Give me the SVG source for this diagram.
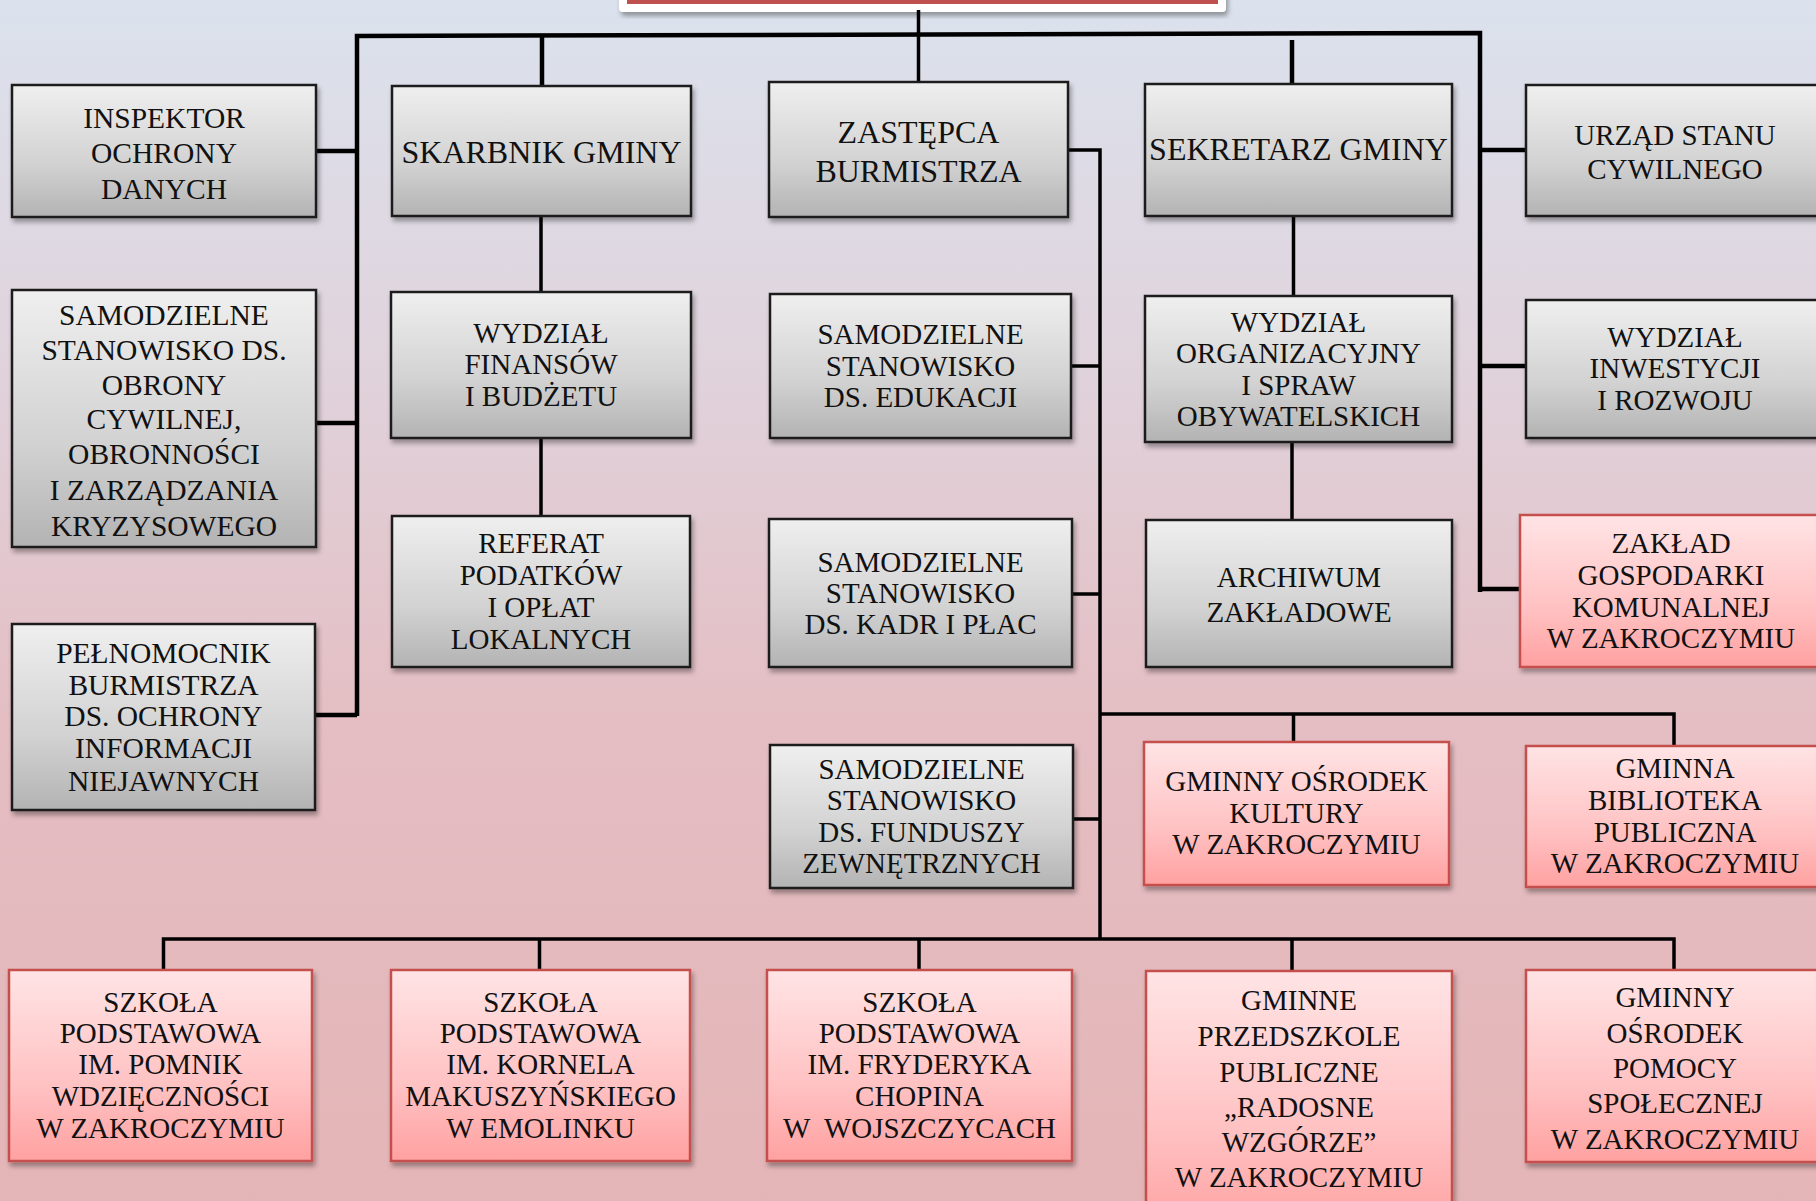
<svg xmlns="http://www.w3.org/2000/svg" width="1816" height="1201" viewBox="0 0 1816 1201">
<defs>
<linearGradient id="bg" x1="0" y1="0" x2="0" y2="1">
<stop offset="0" stop-color="#dbe2ed"/>
<stop offset="0.3" stop-color="#e0d3dc"/>
<stop offset="0.6" stop-color="#e4bec3"/>
<stop offset="1" stop-color="#e4b5b7"/>
</linearGradient>
<linearGradient id="gg" x1="0" y1="0" x2="0" y2="1">
<stop offset="0" stop-color="#efefef"/>
<stop offset="0.6" stop-color="#d2d2d2"/>
<stop offset="1" stop-color="#b3b3b3"/>
</linearGradient>
<linearGradient id="pg" x1="0" y1="0" x2="0" y2="1">
<stop offset="0" stop-color="#ffe4e5"/>
<stop offset="0.6" stop-color="#ffc2c3"/>
<stop offset="1" stop-color="#ffa1a1"/>
</linearGradient>
<filter id="sh" x="-10%" y="-10%" width="130%" height="130%">
<feDropShadow dx="2" dy="4" stdDeviation="2.5" flood-color="#000" flood-opacity="0.35"/>
</filter>
</defs>
<style>
.g{fill:url(#gg);stroke:#1c1c1c;stroke-width:2.5;filter:url(#sh)}
.p{fill:url(#pg);stroke:#c4504e;stroke-width:2.5;filter:url(#sh)}
text{font-family:"Liberation Serif","Times New Roman",serif;font-size:29px;fill:#111;text-anchor:middle}
.b{font-size:32px}
.l{font-size:29.5px}
.ln{fill:none;stroke:#000;stroke-width:3.5;stroke-linejoin:miter}
.tk{stroke-width:4.5}
</style>
<rect x="0" y="0" width="1816" height="1201" fill="url(#bg)"/>

<g id="title">
<rect x="619" y="-20" width="607" height="32" rx="4" fill="#ffffff" filter="url(#sh)"/>
<rect x="627" y="-20" width="591" height="24" fill="#c0504d"/>
</g>

<g id="connectors">
<path class="ln tk" d="M357,716 L357,36 L1480,33 L1480,592"/>
<path class="ln tk" d="M316,151 H357 M316,423 H357 M315,715 H357"/>
<path class="ln tk" d="M542,37 V86"/>
<path class="ln" d="M918.5,10 V82"/>
<path class="ln tk" d="M1292,40 V84"/>
<path class="ln tk" d="M1480,150 H1526 M1480,366 H1526 M1480,589 H1520"/>
<path class="ln" d="M541,216 V292 M541,438 V516"/>
<path class="ln" d="M1293.5,216 V296 M1292,442 V520"/>
<path class="ln" d="M1068,150 H1100 V939"/>
<path class="ln" d="M1071,366 H1100 M1072,594 H1100 M1073,819 H1100"/>
<path class="ln" d="M1100,714 H1674 V746 M1293.5,714 V742"/>
<path class="ln" d="M163.5,970 V939 H1674 V970 M539.5,939 V970 M919,939 V970 M1292,939 V971"/>
</g>

<g id="inspektor">
<rect class="g" x="12" y="85" width="304" height="132"/>
<text class="l"><tspan x="164" y="127.7">INSPEKTOR</tspan><tspan x="164" y="163.3">OCHRONY</tspan><tspan x="164" y="198.7">DANYCH</tspan></text>
</g>
<g id="skarbnik">
<rect class="g" x="392" y="86" width="299" height="130"/>
<text class="b" x="541.5" y="162.5">SKARBNIK GMINY</text>
</g>
<g id="zastepca">
<rect class="g" x="769" y="82" width="299" height="135"/>
<text class="b"><tspan x="918.5" y="143.3">ZASTĘPCA</tspan><tspan x="918.5" y="181.7">BURMISTRZA</tspan></text>
</g>
<g id="sekretarz">
<rect class="g" x="1145" y="84" width="307" height="132"/>
<text class="b" x="1298.5" y="160">SEKRETARZ GMINY</text>
</g>
<g id="usc">
<rect class="g" x="1526" y="85" width="300" height="131"/>
<text><tspan x="1675" y="145">URZĄD STANU</tspan><tspan x="1675" y="179.3">CYWILNEGO</tspan></text>
</g>

<g id="obrona">
<rect class="g" x="12" y="290" width="304" height="257"/>
<text class="l"><tspan x="164" y="325">SAMODZIELNE</tspan><tspan x="164" y="360">STANOWISKO DS.</tspan><tspan x="164" y="394.5">OBRONY</tspan><tspan x="164" y="429.3">CYWILNEJ,</tspan><tspan x="164" y="464">OBRONNOŚCI</tspan><tspan x="164" y="500">I ZARZĄDZANIA</tspan><tspan x="164" y="536">KRYZYSOWEGO</tspan></text>
</g>
<g id="finanse">
<rect class="g" x="391" y="292" width="300" height="146"/>
<text><tspan x="541" y="343.3">WYDZIAŁ</tspan><tspan x="541" y="374.3">FINANSÓW</tspan><tspan x="541" y="406">I BUDŻETU</tspan></text>
</g>
<g id="edukacja">
<rect class="g" x="770" y="294" width="301" height="144"/>
<text><tspan x="920.5" y="344.3">SAMODZIELNE</tspan><tspan x="920.5" y="375.7">STANOWISKO</tspan><tspan x="920.5" y="406.7">DS. EDUKACJI</tspan></text>
</g>
<g id="organizacyjny">
<rect class="g" x="1145" y="296" width="307" height="146"/>
<text><tspan x="1298.5" y="331.7">WYDZIAŁ</tspan><tspan x="1298.5" y="363.3">ORGANIZACYJNY</tspan><tspan x="1298.5" y="395">I SPRAW</tspan><tspan x="1298.5" y="426">OBYWATELSKICH</tspan></text>
</g>
<g id="inwestycje">
<rect class="g" x="1526" y="300" width="300" height="138"/>
<text><tspan x="1675" y="346.7">WYDZIAŁ</tspan><tspan x="1675" y="378.3">INWESTYCJI</tspan><tspan x="1675" y="410">I ROZWOJU</tspan></text>
</g>

<g id="pelnomocnik">
<rect class="g" x="12" y="624" width="303" height="186"/>
<text class="l"><tspan x="163.5" y="663">PEŁNOMOCNIK</tspan><tspan x="163.5" y="694.5">BURMISTRZA</tspan><tspan x="163.5" y="726">DS. OCHRONY</tspan><tspan x="163.5" y="758">INFORMACJI</tspan><tspan x="163.5" y="790.5">NIEJAWNYCH</tspan></text>
</g>
<g id="referat">
<rect class="g" x="392" y="516" width="298" height="151"/>
<text><tspan x="541" y="553">REFERAT</tspan><tspan x="541" y="585">PODATKÓW</tspan><tspan x="541" y="616.5">I OPŁAT</tspan><tspan x="541" y="649">LOKALNYCH</tspan></text>
</g>
<g id="kadry">
<rect class="g" x="769" y="519" width="303" height="148"/>
<text><tspan x="920.5" y="571.5">SAMODZIELNE</tspan><tspan x="920.5" y="602.7">STANOWISKO</tspan><tspan x="920.5" y="634">DS. KADR I PŁAC</tspan></text>
</g>
<g id="archiwum">
<rect class="g" x="1146" y="520" width="306" height="147"/>
<text><tspan x="1299" y="587.3">ARCHIWUM</tspan><tspan x="1299" y="622.3">ZAKŁADOWE</tspan></text>
</g>
<g id="zgk">
<rect class="p" x="1520" y="515" width="306" height="152"/>
<text><tspan x="1671" y="553.3">ZAKŁAD</tspan><tspan x="1671" y="585">GOSPODARKI</tspan><tspan x="1671" y="616.7">KOMUNALNEJ</tspan><tspan x="1671" y="648.3">W ZAKROCZYMIU</tspan></text>
</g>

<g id="fundusze">
<rect class="g" x="770" y="745" width="303" height="143"/>
<text><tspan x="921.5" y="778.6">SAMODZIELNE</tspan><tspan x="921.5" y="810">STANOWISKO</tspan><tspan x="921.5" y="842.3">DS. FUNDUSZY</tspan><tspan x="921.5" y="872.5">ZEWNĘTRZNYCH</tspan></text>
</g>
<g id="gok">
<rect class="p" x="1144" y="742" width="305" height="143"/>
<text><tspan x="1296.5" y="791">GMINNY OŚRODEK</tspan><tspan x="1296.5" y="823.3">KULTURY</tspan><tspan x="1296.5" y="854.3">W ZAKROCZYMIU</tspan></text>
</g>
<g id="gbp">
<rect class="p" x="1526" y="746" width="300" height="141"/>
<text><tspan x="1675" y="777.7">GMINNA</tspan><tspan x="1675" y="810">BIBLIOTEKA</tspan><tspan x="1675" y="841.7">PUBLICZNA</tspan><tspan x="1675" y="873.3">W ZAKROCZYMIU</tspan></text>
</g>

<g id="sp1">
<rect class="p" x="9" y="970" width="303" height="191"/>
<text><tspan x="160.5" y="1011.7">SZKOŁA</tspan><tspan x="160.5" y="1042.7">PODSTAWOWA</tspan><tspan x="160.5" y="1074">IM. POMNIK</tspan><tspan x="160.5" y="1106">WDZIĘCZNOŚCI</tspan><tspan x="160.5" y="1138.3">W ZAKROCZYMIU</tspan></text>
</g>
<g id="sp2">
<rect class="p" x="391" y="970" width="299" height="191"/>
<text><tspan x="540.5" y="1011.7">SZKOŁA</tspan><tspan x="540.5" y="1042.7">PODSTAWOWA</tspan><tspan x="540.5" y="1074">IM. KORNELA</tspan><tspan x="540.5" y="1106">MAKUSZYŃSKIEGO</tspan><tspan x="540.5" y="1138.3">W EMOLINKU</tspan></text>
</g>
<g id="sp3">
<rect class="p" x="767" y="970" width="305" height="191"/>
<text xml:space="preserve"><tspan x="919.5" y="1011.7">SZKOŁA</tspan><tspan x="919.5" y="1042.7">PODSTAWOWA</tspan><tspan x="919.5" y="1074">IM. FRYDERYKA</tspan><tspan x="919.5" y="1106">CHOPINA</tspan><tspan x="919.5" y="1138.3">W  WOJSZCZYCACH</tspan></text>
</g>
<g id="przedszkole">
<rect class="p" x="1146" y="971" width="306" height="260"/>
<text><tspan x="1299" y="1010">GMINNE</tspan><tspan x="1299" y="1045.7">PRZEDSZKOLE</tspan><tspan x="1299" y="1081.7">PUBLICZNE</tspan><tspan x="1299" y="1116.7">„RADOSNE</tspan><tspan x="1299" y="1151.7">WZGÓRZE”</tspan><tspan x="1299" y="1186.7">W ZAKROCZYMIU</tspan></text>
</g>
<g id="gops">
<rect class="p" x="1526" y="970" width="300" height="192"/>
<text><tspan x="1675" y="1007.3">GMINNY</tspan><tspan x="1675" y="1043.3">OŚRODEK</tspan><tspan x="1675" y="1078.3">POMOCY</tspan><tspan x="1675" y="1113.3">SPOŁECZNEJ</tspan><tspan x="1675" y="1149.3">W ZAKROCZYMIU</tspan></text>
</g>
</svg>
